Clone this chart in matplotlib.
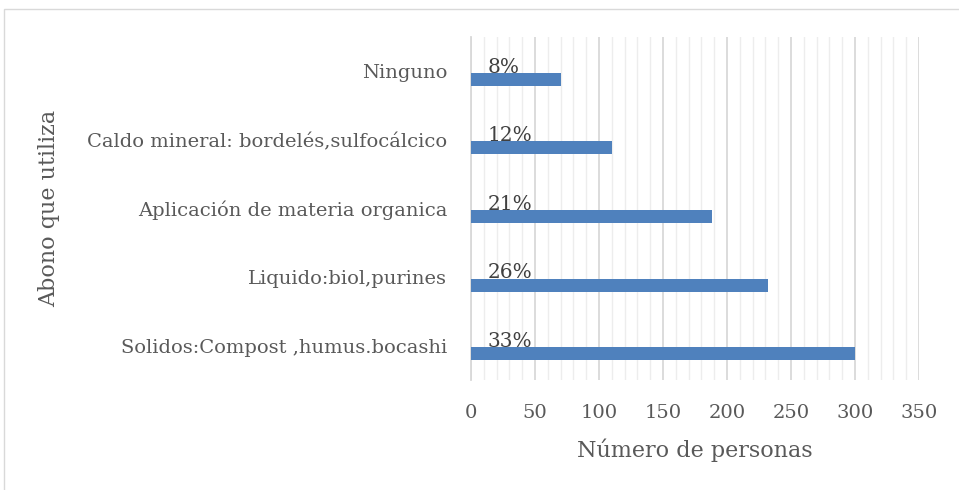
import matplotlib.pyplot as plt
from matplotlib.patches import Rectangle
from matplotlib.ticker import MultipleLocator

categorias = ["Solidos:Compost ,humus.bocashi", "Liquido:biol,purines",
              "Aplicación de materia organica",
              "Caldo mineral: bordelés,sulfocálcico", "Ninguno"]
personas = [300, 232, 188, 110, 70]
porcentajes = ["33%", "26%", "21%", "12%", "8%"]

plt.rcParams['font.family'] = 'DejaVu Serif'
gris = '#595959'

fig = plt.figure(figsize=(9.59, 4.90), dpi=100)
ax = fig.add_axes([0.4911, 0.2245, 0.4672, 0.7000])

# outer chart frame
fig.patches.append(Rectangle((4 / 959, -0.1), 1.2, 1 - 9 / 490 + 0.1,
                             transform=fig.transFigure, fill=False,
                             edgecolor='#d9d9d9', linewidth=1))

pos = list(range(len(categorias)))
ax.barh([p - 0.117 for p in pos], personas, height=0.19, color='#4f81bd',
        zorder=3)
for p, txt in zip(pos, porcentajes):
    ax.text(13, p + 0.06, txt, ha='left', va='center', fontsize=14.5,
            color='#404040', zorder=4)

ax.set_xlim(0, 350)
ax.set_ylim(-0.5, 4.5)
ax.xaxis.set_major_locator(MultipleLocator(50))
ax.xaxis.set_minor_locator(MultipleLocator(10))
ax.grid(axis='x', which='major', color='#d9d9d9', linewidth=1.3, zorder=0)
ax.grid(axis='x', which='minor', color='#ededed', linewidth=1, zorder=0)
ax.set_yticks(pos)
ax.set_yticklabels(categorias)
ax.tick_params(axis='x', length=0, pad=17, labelsize=14, labelcolor=gris)
ax.tick_params(axis='y', length=0, pad=17, labelsize=14, labelcolor=gris)
ax.tick_params(axis='x', which='minor', length=0)

for s in ['top', 'right', 'bottom']:
    ax.spines[s].set_visible(False)
ax.spines['left'].set_color('#d9d9d9')
ax.spines['left'].set_linewidth(1.3)

ax.set_xlabel('Número de personas', fontsize=16, color=gris, labelpad=12)
ax.set_ylabel('Abono que utiliza', fontsize=16, color=gris)
ax.yaxis.set_label_coords(-0.916, 0.5)

fig.savefig('out.png', dpi=100)
